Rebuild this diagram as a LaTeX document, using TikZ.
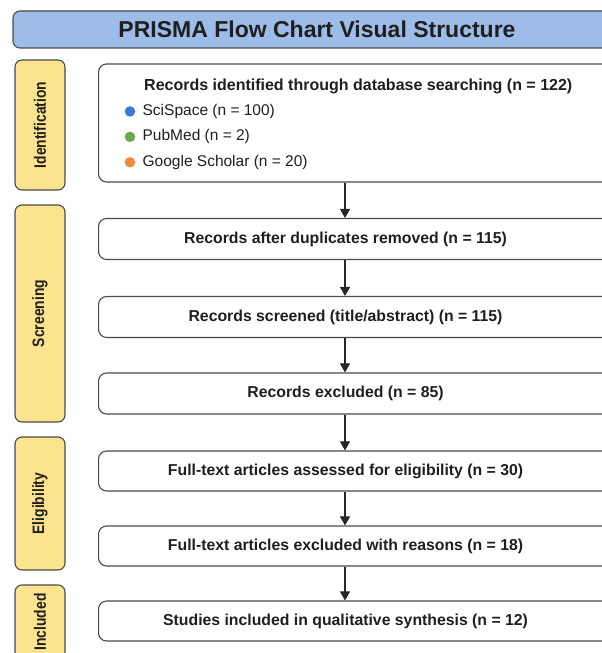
\documentclass[tikz,border=0pt]{standalone}
\usepackage{fontspec}
\setmainfont{Liberation Sans}
\usetikzlibrary{positioning,arrows.meta}

\definecolor{titleblue}{HTML}{9DBDE8}
\definecolor{phaseyellow}{HTML}{FCE38D}
\definecolor{sciblue}{HTML}{3B78D8}
\definecolor{pubgreen}{HTML}{6AA84F}
\definecolor{scholarorange}{HTML}{F58A3D}
\definecolor{edgegray}{HTML}{4A4A4A}

% box text centred on the arrow line, box running on past the right edge
\newcommand{\stagetxt}[1]{\makebox[554pt][l]{\makebox[494pt]{#1}}}
% narrow, tall letters for the phase labels
\newcommand{\phasetxt}[1]{\scalebox{0.84}[1]{#1}}

\begin{document}
\begin{tikzpicture}[x=1pt,y=1pt,
  every node/.style={text=black!88},
  banner/.style={draw=edgegray, line width=1.1pt, fill=titleblue, rounded corners=7pt,
    minimum width=608pt, minimum height=37pt, font=\fontsize{23}{27}\selectfont\bfseries},
  phase/.style={draw=edgegray, line width=1.1pt, fill=phaseyellow, rounded corners=7pt,
    rotate=90, minimum height=50pt, inner sep=0pt, font=\fontsize{16.5}{18}\selectfont\bfseries},
  stage/.style={draw=edgegray, line width=1.1pt, fill=white, rounded corners=8pt,
    anchor=west, inner sep=0pt, minimum height=41pt, font=\fontsize{15.8}{19}\selectfont\bfseries},
  dot/.style={circle, fill=#1, inner sep=0pt, minimum size=10.5pt},
  item/.style={inner sep=0pt, anchor=west, font=\fontsize{15.5}{18}\selectfont},
  flow/.style={-{Triangle[length=9pt,width=10pt]}, line width=1.1pt, draw=black!85}]
\useasboundingbox (0,0) rectangle (602,653);
\clip (0,0) rectangle (602,653);
\fill[white] (0,0) rectangle (602,653);

% title bar
\node[banner] (title) at (317,623.5) {PRISMA Flow Chart Visual Structure};

% phase labels
\node[phase, minimum width=130pt] (phident) at (40,528) {\phasetxt{Identification}};
\node[phase, minimum width=217pt] (phscreen) at (40,339.5) {\phasetxt{Screening}};
\node[phase, minimum width=133pt] (phelig) at (40,149.5) {\phasetxt{Eligibility}};
\node[phase, minimum width=74pt] (phincl) at (40,31) {\phasetxt{Included}};

% identification box with its sources
\node[stage, minimum height=118pt] (ident) at (98,530) {\stagetxt{}};
\node[item, font=\fontsize{16}{19}\selectfont\bfseries] (identhead)
  at ([xshift=46pt,yshift=-23pt]ident.north west)
  {Records identified through database searching (n = 122)};
\node[dot=sciblue] (sci) at ([xshift=32pt,yshift=-48pt]ident.north west) {};
\node[item, right=7pt of sci] (scitxt) {SciSpace (n = 100)};
\node[dot=pubgreen, below=14.5pt of sci] (pub) {};
\node[item, right=7pt of pub] (pubtxt) {PubMed (n = 2)};
\node[dot=scholarorange, below=14.5pt of pub] (gsc) {};
\node[item, right=7pt of gsc] (gsctxt) {Google Scholar (n = 20)};

% later stages
\node[stage] (dup) at (98,414) {\stagetxt{Records after duplicates removed (n = 115)}};
\node[stage] (screened) at (98,336) {\stagetxt{Records screened (title/abstract) (n = 115)}};
\node[stage] (excluded) at (98,259.5) {\stagetxt{Records excluded (n = 85)}};
\node[stage, minimum height=40pt] (assessed) at (98,182) {\stagetxt{Full-text articles assessed for eligibility (n = 30)}};
\node[stage, minimum height=40pt] (fullexcl) at (98,107) {\stagetxt{Full-text articles excluded with reasons (n = 18)}};
\node[stage, minimum height=40pt] (included) at (98,32) {\stagetxt{Studies included in qualitative synthesis (n = 12)}};

% arrows down the middle
\coordinate (spine) at (345,0);
\foreach \a/\b in {ident/dup, dup/screened, screened/excluded, excluded/assessed,
                   assessed/fullexcl, fullexcl/included}
  \draw[flow] (\a.south -| spine) -- (\b.north -| spine);
\end{tikzpicture}
\end{document}
